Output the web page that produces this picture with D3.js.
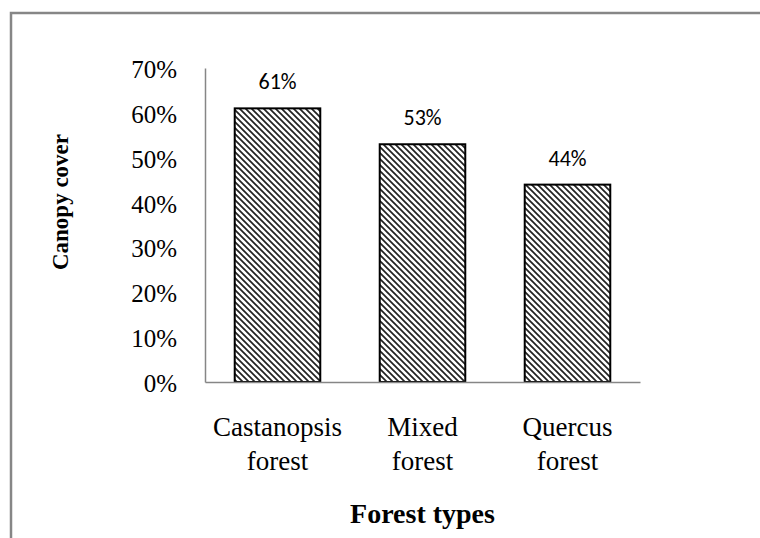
<!DOCTYPE html>
<html>
<head>
<meta charset="utf-8">
<script src="https://cdn.jsdelivr.net/npm/d3@7"></script>
<style>
  body { margin: 0; background: #fff; }
  svg { display: block; }
</style>
</head>
<body>
<script>
var categories = [["Castanopsis", "forest"], ["Mixed", "forest"], ["Quercus", "forest"]]
var values = [0.61, 0.53, 0.44]
var yTicks = [0, 0.1, 0.2, 0.3, 0.4, 0.5, 0.6, 0.7]

var W = 760, H = 538
var margin = {top: 68, left: 205, right: 120, bottom: 156}
var w = W - margin.left - margin.right,
    h = H - margin.top - margin.bottom

var svg = d3.select("body").append("svg")
    .attr("width", W).attr("height", H)

// outer frame (only top and left are visible in the crop)
svg.append("path")
    .attr("d", "M11,538 V13 H760")
    .attr("fill", "none").attr("stroke", "#868686").attr("stroke-width", 2.5)

var defs = svg.append("defs")
var pat = defs.append("pattern")
    .attr("id", "hatch").attr("patternUnits", "userSpaceOnUse")
    .attr("width", 6).attr("height", 6)
pat.append("rect").attr("width", 6).attr("height", 6).attr("fill", "#fff")
pat.append("path")
    .attr("d", "M0,0 L6,6 M-1,5 L1,7 M5,-1 L7,1")
    .attr("stroke", "#222").attr("stroke-width", 1.7)

var g = svg.append("g").attr("transform", `translate(${margin.left},${margin.top})`)

var x = d3.scaleBand()
    .domain(categories.map(function(d){ return d.join(" ") }))
    .range([0, w])
    .paddingInner(0.41).paddingOuter(0.205)

var y = d3.scaleLinear().domain([0, 0.7]).range([h, 0])

// y axis
var yAxis = g.append("g")
    .call(d3.axisLeft(y).tickValues(yTicks).tickFormat(d3.format(".0%")).tickSize(0).tickPadding(28))
yAxis.select(".domain").attr("stroke", "#868686").attr("stroke-width", 1.5)
yAxis.selectAll("text")
    .attr("font-family", "Liberation Serif, serif").attr("font-size", 25).attr("fill", "#000")
    .attr("dy", "0.38em")

// bars
g.selectAll("rect.bar").data(values).enter()
  .append("rect").attr("class", "bar")
    .attr("x", function(d, i){ return x(categories[i].join(" ")) })
    .attr("y", function(d){ return y(d) })
    .attr("width", x.bandwidth())
    .attr("height", function(d){ return h - y(d) })
    .attr("fill", "url(#hatch)")
    .attr("stroke", "#000").attr("stroke-width", 2)

// value labels
g.selectAll("text.val").data(values).enter()
  .append("text").attr("class", "val")
    .attr("x", function(d, i){ return x(categories[i].join(" ")) + x.bandwidth() / 2 })
    .attr("y", function(d){ return y(d) - 19 })
    .attr("text-anchor", "middle")
    .attr("font-family", "Carlito, Open Sans, sans-serif").attr("font-size", 22)
    .text(function(d){ return d3.format(".0%")(d) })

// x axis
var xAxis = g.append("g").attr("transform", `translate(0,${h})`)
    .call(d3.axisBottom(x).tickSize(0).tickFormat(""))
xAxis.select(".domain").attr("stroke", "#868686").attr("stroke-width", 1.5)

xAxis.selectAll(".tick").each(function(d, i){
  var t = d3.select(this).append("text")
      .attr("text-anchor", "middle").attr("fill", "#000")
      .attr("font-family", "Liberation Serif, serif").attr("font-size", 27)
  categories[i].forEach(function(line, j){
    t.append("tspan").attr("x", 0).attr("y", 54 + j * 34).text(line)
  })
})

// axis titles
g.append("text")
    .attr("x", w / 2).attr("y", h + 141)
    .attr("text-anchor", "middle")
    .attr("font-family", "Liberation Serif, serif").attr("font-size", 28).attr("font-weight", "bold")
    .text("Forest types")

g.append("text")
    .attr("transform", `translate(${68 - margin.left},${202 - margin.top}) rotate(-90)`)
    .attr("text-anchor", "middle")
    .attr("font-family", "Liberation Serif, serif").attr("font-size", 23).attr("font-weight", "bold")
    .text("Canopy cover")
</script>
</body>
</html>
